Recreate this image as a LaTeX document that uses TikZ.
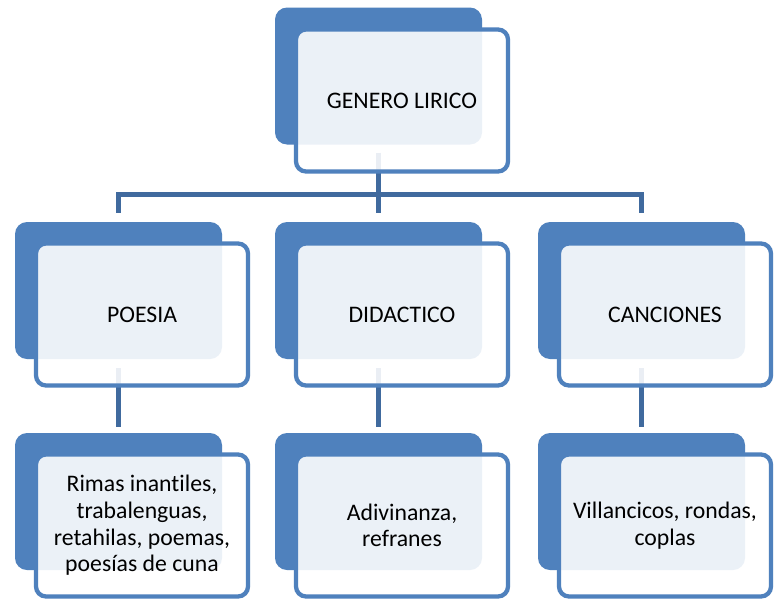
\documentclass[tikz,border=0pt]{standalone}
\usepackage{fontspec}
\setmainfont{Carlito}[Ligatures=NoCommon]
\usetikzlibrary{calc}
\definecolor{acc}{RGB}{79,129,189}
\definecolor{conncol}{RGB}{64,106,158}
\begin{document}
\begin{tikzpicture}[x=0.75pt,y=-0.75pt,
  backbox/.style={fill=acc, draw=none, rounded corners=9pt, minimum width=155.25pt, minimum height=102.75pt, inner sep=0pt},
  frontbox/.style={draw=acc, line width=3.2pt, fill=white, fill opacity=0.89, text opacity=1, rounded corners=7.5pt, minimum width=159pt, minimum height=106.5pt, inner sep=0pt, align=center, font=\fontsize{17.8}{20}\selectfont},
  link/.style={draw=conncol, line width=4.1pt}]
\useasboundingbox (0,0) rectangle (775,600);
\fill[white] (0,0) rectangle (775,600);
% back boxes
\node[backbox] (b0) at (378.5,76) {};
\node[backbox] (b1) at (118.5,290.5) {};
\node[backbox] (b2) at (378.5,290.5) {};
\node[backbox] (b3) at (641.5,290.5) {};
\node[backbox] (b4) at (118.5,501.5) {};
\node[backbox] (b5) at (378.5,501.5) {};
\node[backbox] (b6) at (641.5,501.5) {};
% connectors
\coordinate (bar) at (0,194.5);
\coordinate (j0) at ($(b0.south)+(0,8)$);
\draw[link] (j0) -- ($(b2.north)+(0,-9)$);
\draw[link] ($(b1.north)+(0,-9)$) -- (b1.north |- bar) -- (b3.north |- bar) -- ($(b3.north)+(0,-9)$);
\draw[link] ($(b1.south)+(0,9)$) -- ($(b4.north)+(0,-6)$);
\draw[link] ($(b2.south)+(0,9)$) -- ($(b5.north)+(0,-6)$);
\draw[link] ($(b3.south)+(0,9)$) -- ($(b6.north)+(0,-6)$);
% front boxes
\node[frontbox] (f0) at ($(b0)+(23.5,24.5)$) {GENERO LIRICO};
\node[frontbox] (f1) at ($(b1)+(23.5,24)$) {POESIA};
\node[frontbox] (f2) at ($(b2)+(23.5,24)$) {DIDACTICO};
\node[frontbox] (f3) at ($(b3)+(23.5,24)$) {CANCIONES};
\node[frontbox] (f4) at ($(b4)+(23.5,24)$) {Rimas inantiles,\\trabalenguas,\\retahilas, poemas,\\poesías de cuna};
\node[frontbox] (f5) at ($(b5)+(23.5,24)$) {Adivinanza,\\refranes};
\node[frontbox] (f6) at ($(b6)+(23.5,24)$) {Villancicos, rondas,\\coplas};
\end{tikzpicture}
\end{document}
